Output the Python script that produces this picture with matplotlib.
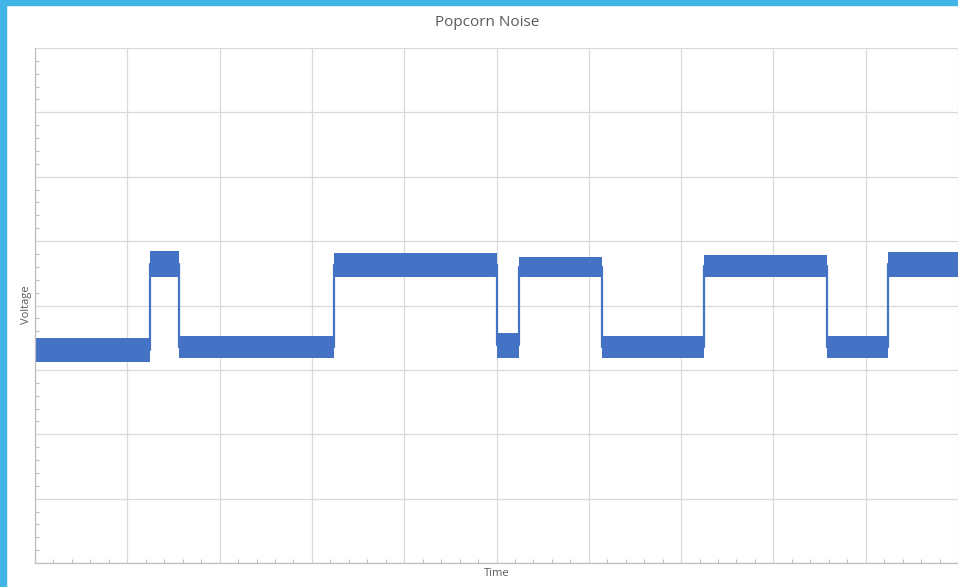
import matplotlib as mpl
mpl.use('Agg')
import matplotlib.pyplot as plt
import numpy as np
from matplotlib.patches import Rectangle
from matplotlib.ticker import AutoMinorLocator, MultipleLocator

# ================== data =================
# level changes of the signal (time in grid units, 0..10)
seg_start = [0.00, 1.25, 1.56, 3.24, 5.00, 5.24, 6.14, 7.25, 8.58, 9.24]
seg_end = [1.25, 1.56, 3.24, 5.00, 5.24, 6.14, 7.25, 8.58, 9.24, 10.0]
seg_level = [3.31, 4.64, 3.35, 4.63, 3.38, 4.60, 3.35, 4.61, 3.35, 4.64]
# half height of the noise band in each segment
seg_noise = [0.18, 0.20, 0.17, 0.18, 0.19, 0.16, 0.17, 0.17, 0.17, 0.19]

title = 'Popcorn Noise'
x_label = 'Time'
y_label = 'Voltage'

# ================== styles =================
line_color = '#4472C4'
grid_color = '#d9d9d9'
axis_color = '#bfbfbf'
text_color = '#595959'
frame_color = '#41B6E6'
plt.rcParams['font.family'] = ['Open Sans', 'DejaVu Sans']

fig = plt.figure(figsize=(9.58, 5.87), dpi=100)
ax = fig.add_axes([35 / 958, 1 - 563 / 587, 1 - 35 / 958, (563 - 48) / 587])

# step signal through the segment boundaries
xs = np.array(seg_start + [seg_end[-1]])
lev = np.array(seg_level + [seg_level[-1]])
amp = np.array(seg_noise + [seg_noise[-1]])
ax.fill_between(xs, lev - amp, lev + amp, step='post', color=line_color, lw=0)
ax.plot(xs, lev, drawstyle='steps-post', color=line_color, lw=1.6)

ax.set_xlim(0, 10)
ax.set_ylim(0, 8)
ax.xaxis.set_major_locator(MultipleLocator(1))
ax.yaxis.set_major_locator(MultipleLocator(1))
ax.xaxis.set_minor_locator(AutoMinorLocator(5))
ax.yaxis.set_minor_locator(AutoMinorLocator(5))
ax.grid(True, which='major', color=grid_color, linewidth=0.9)
ax.set_axisbelow(True)
ax.tick_params(which='both', direction='in', colors=axis_color,
               labelbottom=False, labelleft=False)
ax.tick_params(which='major', length=0)
ax.tick_params(which='minor', length=3, width=0.8)
for side in ['top', 'right']:
    ax.spines[side].set_visible(False)
for side in ['left', 'bottom']:
    ax.spines[side].set_color(axis_color)
    ax.spines[side].set_linewidth(0.9)

fig.text(487 / 958, 1 - 22 / 587, title, ha='center', va='center',
         fontsize=11, color=text_color)
fig.text(497 / 958, 1 - 574 / 587, x_label, ha='center', va='center',
         fontsize=8, color=text_color)
fig.text(27 / 958, 1 - 305 / 587, y_label, ha='center', va='center',
         rotation=90, fontsize=8, color=text_color)

# light blue frame on the left and top edges
fig.patches.append(Rectangle((0, 0), 6 / 958, 1, transform=fig.transFigure,
                             color=frame_color, zorder=10))
fig.patches.append(Rectangle((0, 1 - 5 / 587), 1, 5 / 587, transform=fig.transFigure,
                             color=frame_color, zorder=10))

fig.savefig('out.png', dpi=100, facecolor='white')
